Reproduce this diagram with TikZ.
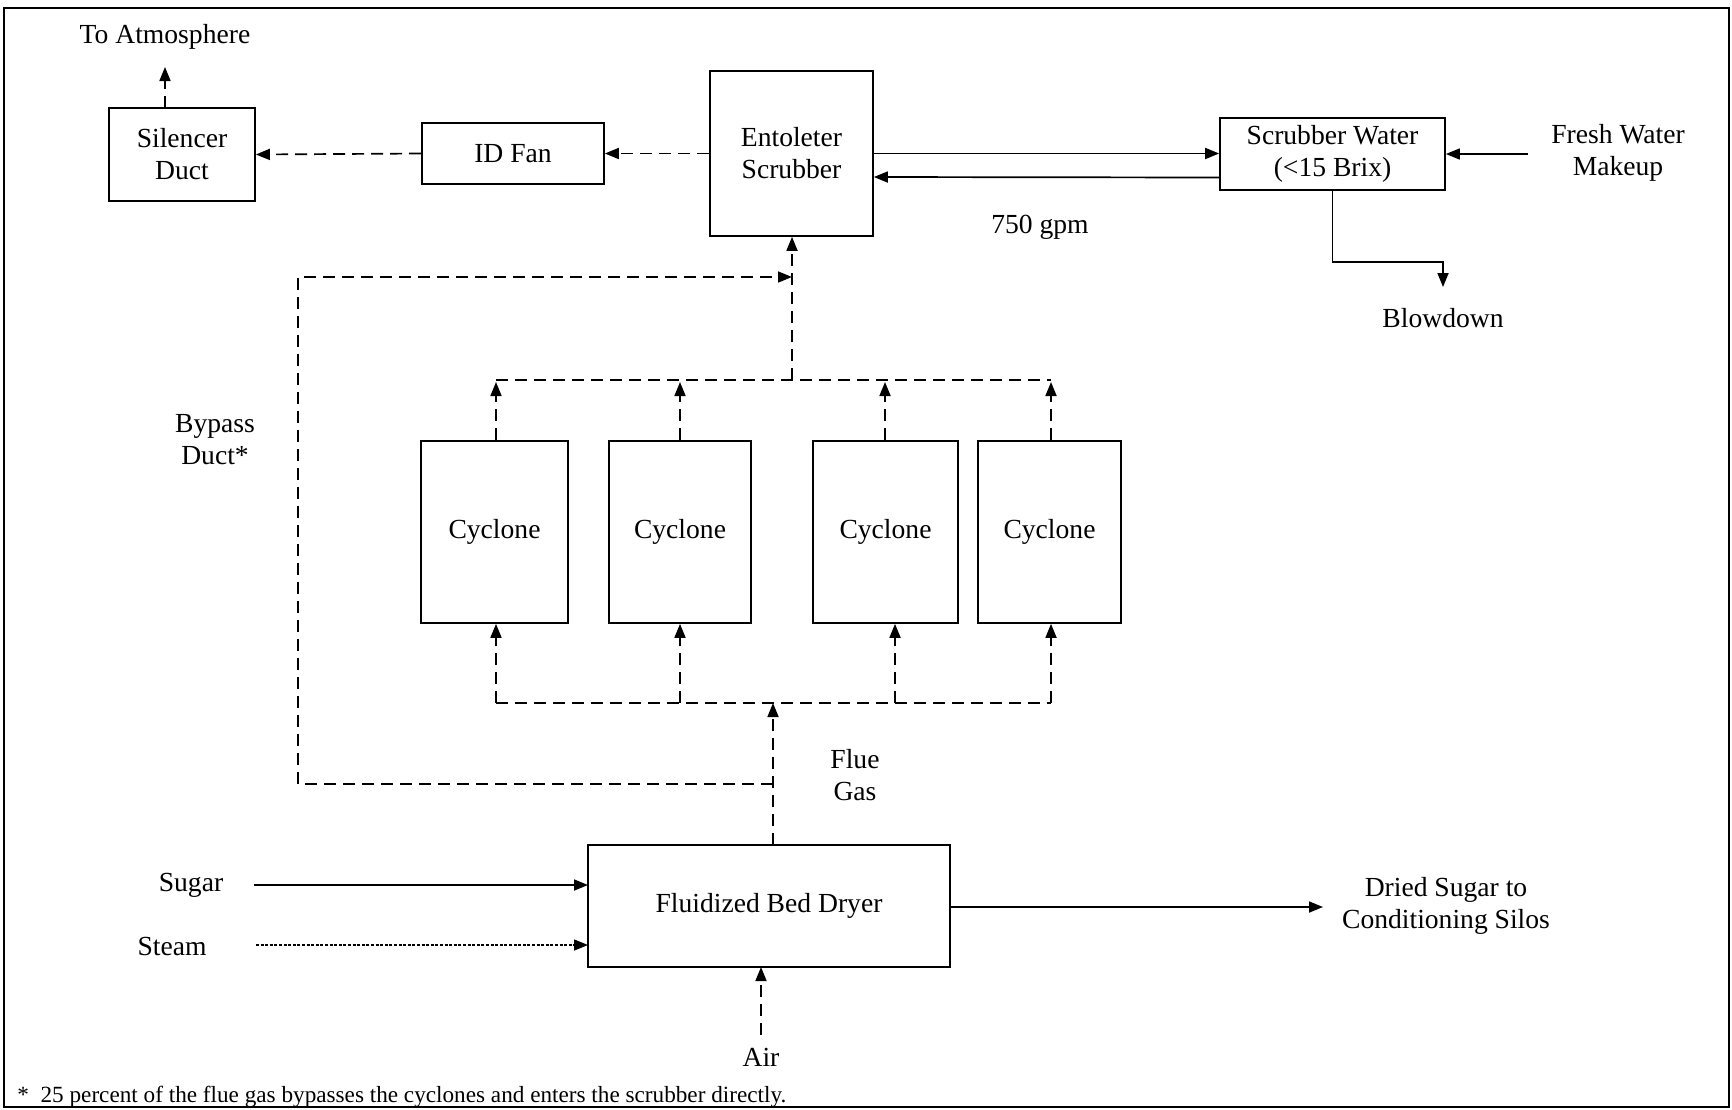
\documentclass[tikz,border=0pt]{standalone}
\usepackage{fontspec}
\setmainfont{Liberation Serif}
\usetikzlibrary{arrows.meta,calc}
\begin{document}
\begin{tikzpicture}[x=0.5pt,y=-0.5pt,
  font=\fontsize{13.8}{16}\selectfont,
  box/.style={draw,line width=0.85pt,rectangle,inner sep=0pt,align=center},
  lbl/.style={align=center,inner sep=0pt},
  flow/.style={line width=0.85pt,-{Triangle[length=7pt,width=5.5pt]}},
  dsh/.style={line width=0.85pt,dash pattern=on 6pt off 3.5pt},
  dot/.style={line width=0.7pt,dash pattern=on 1.5pt off 0.8pt},
  tip/.style={-{Triangle[length=7pt,width=5.5pt]}}]
\useasboundingbox (0,0) rectangle (1732,1109);
\draw[line width=1.2pt] (4,8) rectangle (1729,1107);

% boxes
\node[box,minimum width=73pt,minimum height=46.5pt] (sil) at (182,154.5) {Silencer\\Duct};
\node[box,minimum width=91pt,minimum height=30.5pt] (fan) at (513,153.5) {ID Fan};
\node[box,minimum width=81.5pt,minimum height=82.5pt] (ent) at (791.5,153.5) {Entoleter\\Scrubber};
\node[box,minimum width=112.5pt,minimum height=36pt] (scw) at (1332.5,154) {Scrubber Water\\(<15 Brix)};
\node[box,minimum width=73.5pt,minimum height=91pt] (c1) at (494.5,532) {Cyclone};
\node[box,minimum width=71pt,minimum height=91pt] (c2) at (680,532) {Cyclone};
\node[box,minimum width=72.5pt,minimum height=91pt] (c3) at (885.5,532) {Cyclone};
\node[box,minimum width=71.5pt,minimum height=91pt] (c4) at (1049.5,532) {Cyclone};
\node[box,minimum width=181pt,minimum height=61pt] (dry) at (769,906) {Fluidized Bed Dryer};

% labels
\node[lbl] (atm) at (165,37) {To Atmosphere};
\node[lbl] (fw) at (1618,153) {Fresh Water\\Makeup};
\node[lbl] (gpm) at (1040,227) {750 gpm};
\node[lbl] (bd) at (1443,318) {Blowdown};
\node[lbl] (byp) at (215,440) {Bypass\\Duct*};
\node[lbl] (flue) at (855,775) {Flue\\Gas};
\node[lbl] (sug) at (191,885) {Sugar};
\node[lbl] (stm) at (172,946) {Steam};
\node[lbl] (air) at (761,1057) {Air};
\node[lbl] (out) at (1446,906) {Dried Sugar to\\Conditioning Silos};
\node[lbl,anchor=west,font=\fontsize{11.6}{13}\selectfont] (fn) at (17,1097) {*\ \ 25 percent of the flue gas bypasses the cyclones and enters the scrubber directly.};

% coordinates
\coordinate (atmT) at (165,67);
\coordinate (atmB) at (165,108);
\coordinate (fwS) at (1528,154);
\coordinate (bdC) at (1443,262);
\coordinate (bdT) at (1443,287);
\coordinate (jTop) at (792,380);
\coordinate (jByp) at (792,277);
\coordinate (mtL) at (496,380);
\coordinate (mtR) at (1051,380);
\coordinate (mbL) at (496,703);
\coordinate (mbR) at (1051,703);
\coordinate (rB) at (773,845);
\coordinate (rT) at (773,703);
\coordinate (rJ) at (773,784);
\coordinate (bpBL) at (298,784);
\coordinate (bpTL) at (298,277);
\coordinate (sugS) at (254,885);
\coordinate (sugE) at (588,885);
\coordinate (stmS) at (256,945);
\coordinate (stmE) at (588,945);
\coordinate (outE) at (1323,907);
\coordinate (outS) at (950,907);
\coordinate (airS) at (761,1035);
\coordinate (airE) at (761,967);

% top train
\draw[dsh,tip] (atmB) -- (atmT);
\draw[dsh,tip] (fan.west) -- (sil.east);
\draw[dsh,tip] (ent.west) -- (fan.east);
\draw[flow] (ent.east) -- (scw.west |- ent.east);
\draw[flow] ([yshift=-11.75pt]scw.west) -- ([yshift=-11.75pt]ent.east);
\draw[flow] (fwS) -- (scw.east);
\draw[line width=0.85pt,tip] (scw.south) |- (bdC) -- (bdT);

% cyclone top manifold
\draw[dsh] (mtL) -- (mtR);
\draw[dsh,tip] (jTop) -- (ent.south -| jTop);
\foreach \c/\x in {c1/496,c2/680,c3/885,c4/1051}{
  \draw[dsh,tip] (\c.north -| \x,0) -- (\x,382);
}
% cyclone bottom manifold
\draw[dsh] (mbL) -- (mbR);
\foreach \c/\x in {c1/496,c2/680,c3/895,c4/1051}{
  \draw[dsh,tip] (\x,703) -- (\c.south -| \x,0);
}
\draw[dsh,tip] (rB) -- (rT);
% bypass
\draw[dsh,tip] (rJ) -- (bpBL) -- (bpTL) -- (jByp);

% dryer
\draw[flow] (sugS) -- (sugE);
\draw[dot,tip] (stmS) -- (stmE);
\draw[flow] (outS) -- (outE);
\draw[dsh,tip] (airS) -- (airE);
\end{tikzpicture}
\end{document}
